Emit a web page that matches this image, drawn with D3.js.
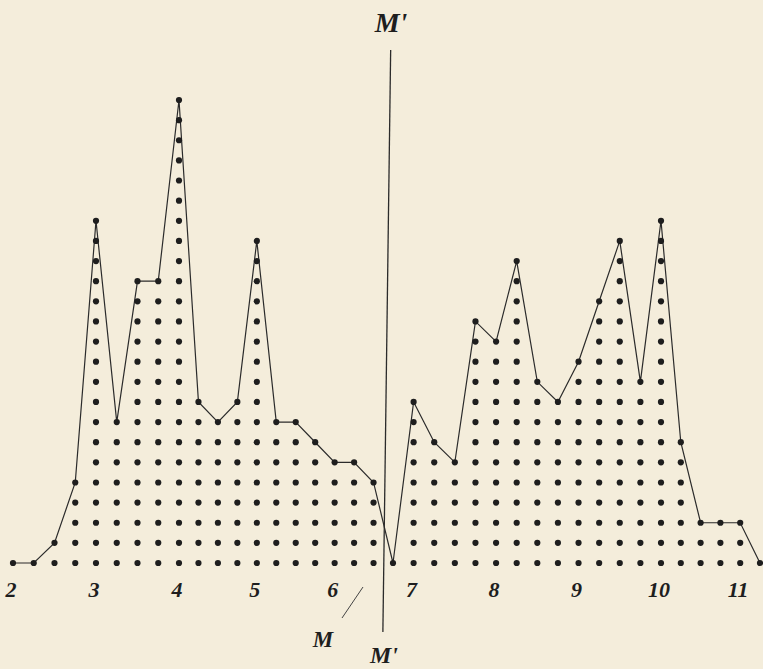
<!DOCTYPE html>
<html>

<head>
	<script src="https://d3js.org/d3.v7.min.js"></script>
	<title>Dot frequency polygon</title>
	<style>
		body {
			margin: 0;
			background: #f4eddb;
		}
	</style>
</head>

<body>

	<div id="chart"></div>

	<script>
		// class marks (every quarter unit) and number of cases in each
		const classMarks = [
			2, 2.25, 2.5, 2.75, 3, 3.25, 3.5, 3.75, 4, 4.25, 4.5, 4.75,
			5, 5.25, 5.5, 5.75, 6, 6.25, 6.5, 6.75, 7, 7.25, 7.5, 7.75,
			8, 8.25, 8.5, 8.75, 9, 9.25, 9.5, 9.75, 10, 10.25, 10.5, 10.75,
			11, 11.25
		];
		const counts = [
			1, 1, 2, 5, 18, 8, 15, 15, 24, 9, 8, 9,
			17, 8, 8, 7, 6, 6, 5, 1, 9, 7, 6, 13,
			12, 16, 10, 9, 11, 14, 17, 10, 18, 7, 3, 3,
			3, 1
		];
		const tickValues = [2, 3, 4, 5, 6, 7, 8, 9, 10, 11];

		// the median line M'M' (top end, bottom end)
		const medianLine = [6.72, 6.62];

		const width = 763, height = 669;

		const svg = d3.select("#chart")
			.append("svg")
			.attr("width", width)
			.attr("height", height);

		svg.append("rect")
			.attr("width", width)
			.attr("height", height)
			.attr("fill", "#f4eddb");

		// the printed plate is not quite even, so a piecewise scale
		const x = d3.scaleLinear()
			.domain([2, 4, 6.75, 10, 11.25])
			.range([13, 179, 393, 661, 760]);

		// one row of dots = one case
		const y = d3.scaleLinear()
			.domain([1, 24])
			.range([563, 100]);

		const data = classMarks.map((m, i) => ({ mark: m, n: counts[i] }));

		// every case as a dot
		const dots = [];
		data.forEach(d => {
			for (let k = 1; k <= d.n; k++) dots.push({ mark: d.mark, k: k });
		});

		// polygon through the top dots
		const line = d3.line()
			.x(d => x(d.mark))
			.y(d => y(d.n));

		svg.append("path")
			.datum(data)
			.attr("d", line)
			.attr("fill", "none")
			.attr("stroke", "#2b2b2b")
			.attr("stroke-width", 1.2);

		svg.selectAll("circle.dot")
			.data(dots)
			.enter()
			.append("circle")
			.attr("class", "dot")
			.attr("cx", d => x(d.mark))
			.attr("cy", d => y(d.k))
			.attr("r", 3.1)
			.attr("fill", "#1e1e1e");

		// median line
		svg.append("line")
			.attr("x1", x(medianLine[0]))
			.attr("y1", 50)
			.attr("x2", x(medianLine[1]))
			.attr("y2", 632)
			.attr("stroke", "#2b2b2b")
			.attr("stroke-width", 1.3);

		// tick numbers
		svg.selectAll("text.tick")
			.data(tickValues)
			.enter()
			.append("text")
			.attr("class", "tick")
			.attr("x", d => x(d) - 2)
			.attr("y", 597)
			.attr("text-anchor", "middle")
			.style("font-family", "Liberation Serif, serif")
			.style("font-style", "italic")
			.style("font-weight", "bold")
			.style("font-size", "22px")
			.style("fill", "#1e1e1e")
			.text(d => d);

		const labelStyle = sel => sel
			.style("font-family", "Liberation Serif, serif")
			.style("font-style", "italic")
			.style("font-weight", "bold")
			.style("fill", "#1e1e1e");

		svg.append("text")
			.attr("x", 391)
			.attr("y", 32)
			.attr("text-anchor", "middle")
			.style("font-size", "28px")
			.call(labelStyle)
			.text("M'");

		svg.append("text")
			.attr("x", 384)
			.attr("y", 663)
			.attr("text-anchor", "middle")
			.style("font-size", "24px")
			.call(labelStyle)
			.text("M'");

		svg.append("text")
			.attr("x", 323)
			.attr("y", 647)
			.attr("text-anchor", "middle")
			.style("font-size", "23px")
			.call(labelStyle)
			.text("M");

		// pointer from M to the median
		svg.append("line")
			.attr("x1", 342)
			.attr("y1", 618)
			.attr("x2", 363)
			.attr("y2", 587)
			.attr("stroke", "#444")
			.attr("stroke-width", 1);
	</script>
</body>

</html>
